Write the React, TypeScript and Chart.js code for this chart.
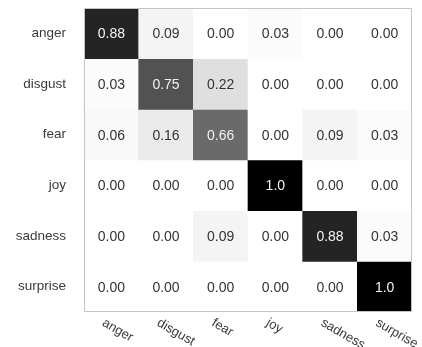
import React, { useEffect, useRef } from "react";
import { Chart, registerables } from "chart.js";

Chart.register(...registerables);

// Emotion classes (rows = true label, columns = predicted label)
const emotions = ["anger", "disgust", "fear", "joy", "sadness", "surprise"];

// Normalised confusion matrix, one row per true class
const angerRow = [0.88, 0.09, 0.0, 0.03, 0.0, 0.0];
const disgustRow = [0.03, 0.75, 0.22, 0.0, 0.0, 0.0];
const fearRow = [0.06, 0.16, 0.66, 0.0, 0.09, 0.03];
const joyRow = [0.0, 0.0, 0.0, 1.0, 0.0, 0.0];
const sadnessRow = [0.0, 0.0, 0.09, 0.0, 0.88, 0.03];
const surpriseRow = [0.0, 0.0, 0.0, 0.0, 0.0, 1.0];

const matrix = [angerRow, disgustRow, fearRow, joyRow, sadnessRow, surpriseRow];

const FONT = "'Liberation Sans', Arial, Helvetica, sans-serif";

// Sequential grey colour ramp (white -> black)
const greyStops = [255, 240, 217, 189, 150, 115, 82, 37, 0];
function greys(v: number): string {
  const t = Math.max(0, Math.min(1, v)) * (greyStops.length - 1);
  const i = Math.min(Math.floor(t), greyStops.length - 2);
  const f = t - i;
  const g = Math.round(greyStops[i] + (greyStops[i + 1] - greyStops[i]) * f);
  return `rgb(${g},${g},${g})`;
}

function formatValue(v: number): string {
  return v === 1 ? "1.0" : v.toFixed(2);
}

const heatmapDecor = {
  id: "heatmapDecor",
  afterDatasetsDraw(chart: any) {
    const { ctx, chartArea, scales } = chart;
    ctx.save();

    // cell values
    ctx.font = `14px ${FONT}`;
    ctx.textAlign = "center";
    ctx.textBaseline = "middle";
    chart.data.datasets.forEach((_: any, r: number) => {
      const meta = chart.getDatasetMeta(r);
      meta.data.forEach((bar: any, c: number) => {
        const v = matrix[r][c];
        const { x, y, base } = bar.getProps(["x", "y", "base"], true);
        ctx.fillStyle = v > 0.5 ? "#f2f2f2" : "#333333";
        ctx.fillText(formatValue(v), x, (y + base) / 2 + 1);
      });
    });

    // frame
    ctx.strokeStyle = "#c4c4c4";
    ctx.lineWidth = 1;
    ctx.strokeRect(
      chartArea.left + 0.5,
      chartArea.top + 0.5,
      chartArea.right - chartArea.left - 1,
      chartArea.bottom - chartArea.top - 1
    );

    // slanted column labels
    ctx.font = `13px ${FONT}`;
    ctx.fillStyle = "#3a3a3a";
    ctx.textAlign = "left";
    ctx.textBaseline = "middle";
    emotions.forEach((label, c) => {
      const x = scales.x.getPixelForValue(c);
      ctx.save();
      ctx.translate(x - 8, chartArea.bottom + 10);
      ctx.rotate(Math.PI / 6);
      ctx.fillText(label, 0, 0);
      ctx.restore();
    });

    ctx.restore();
  },
};

export default function App() {
  const canvasRef = useRef<HTMLCanvasElement | null>(null);

  useEffect(() => {
    document.body.style.margin = "0";
    const canvas = canvasRef.current;
    if (!canvas) return;

    const chart = new Chart(canvas, {
      type: "bar",
      data: {
        labels: emotions,
        datasets: matrix.map((row, r) => ({
          label: emotions[r],
          data: row.map(() => [r - 0.5, r + 0.5]) as any,
          backgroundColor: row.map(greys),
          borderWidth: 0,
          grouped: false,
          barPercentage: 1,
          categoryPercentage: 1,
        })),
      },
      options: {
        animation: false,
        responsive: true,
        maintainAspectRatio: false,
        layout: { padding: { top: 8, right: 10, left: 0, bottom: 0 } },
        plugins: {
          legend: { display: false },
          tooltip: { enabled: false },
        },
        scales: {
          x: {
            type: "category",
            grid: { display: false, drawTicks: false },
            border: { display: false },
            ticks: { display: false },
            afterFit: (scale: any) => {
              scale.height = 35;
              scale.paddingLeft = 0;
              scale.paddingRight = 0;
            },
          },
          y: {
            type: "linear",
            min: -0.5,
            max: 5.5,
            reverse: true,
            grid: { display: false, drawTicks: false },
            border: { display: false },
            afterBuildTicks: (axis: any) => {
              axis.ticks = emotions.map((_, i) => ({ value: i }));
            },
            ticks: {
              autoSkip: false,
              padding: 18,
              color: "#3a3a3a",
              font: { family: FONT, size: 13.5 },
              callback: (v: any) => emotions[Number(v)] ?? "",
            },
            afterFit: (scale: any) => {
              scale.width = 84;
              scale.paddingTop = 0;
              scale.paddingBottom = 0;
            },
          },
        },
      },
      plugins: [heatmapDecor],
    });

    return () => chart.destroy();
  }, []);

  return (
    <div style={{ width: 422, height: 347, position: "relative", background: "#ffffff" }}>
      <canvas ref={canvasRef} />
    </div>
  );
}
